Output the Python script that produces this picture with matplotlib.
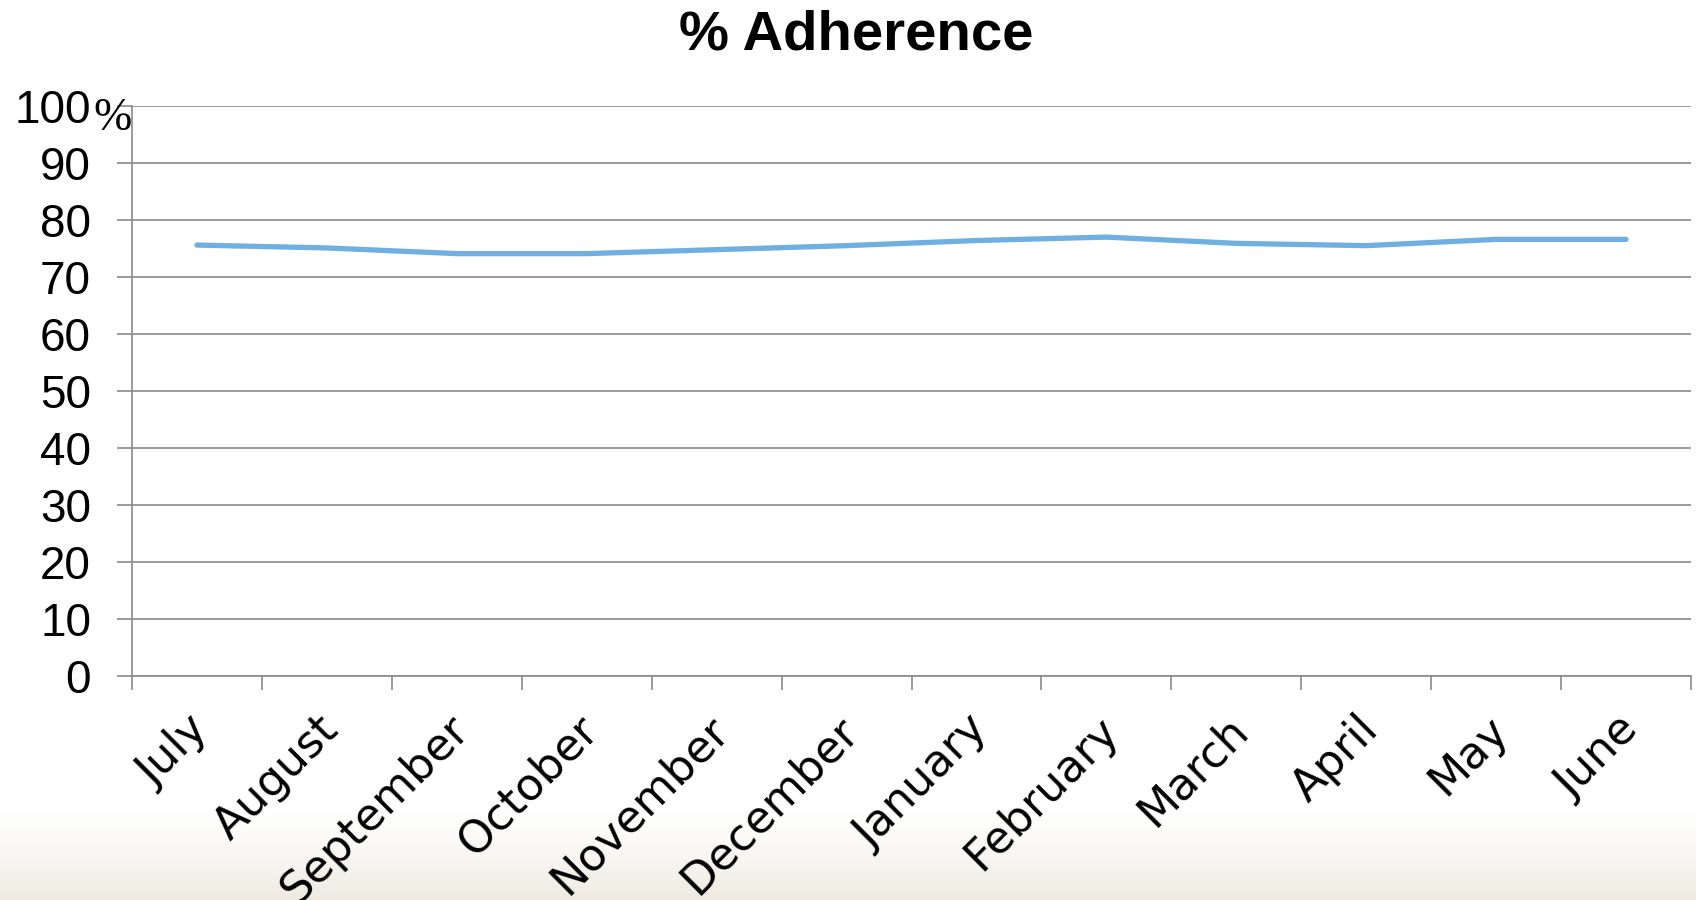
import numpy as np
import matplotlib
matplotlib.use("Agg")
import matplotlib.pyplot as plt
from matplotlib.transforms import ScaledTranslation

months = ["July", "August", "September", "October", "November", "December",
          "January", "February", "March", "April", "May", "June"]
adherence = [75.6, 75.1, 74.1, 74.1, 74.8, 75.5,
             76.4, 77.0, 75.9, 75.5, 76.6, 76.6]
y_ticks = [0, 10, 20, 30, 40, 50, 60, 70, 80, 90, 100]
y_labels = ["0", "10", "20", "30", "40", "50", "60", "70", "80", "90", "100"]

GRID = "#8a8a8a"
LINE = "#6fafe1"
W, H = 1696, 900

fig = plt.figure(figsize=(W / 100, H / 100), dpi=100)

# soft beige band along the bottom edge
bg = fig.add_axes([0, 0, 1, 90 / H], zorder=-5)
grad = np.linspace(0, 1, 256)[:, None] ** 1.3
top = np.array([1.0, 1.0, 1.0])
bot = np.array([0xee, 0xea, 0xe0]) / 255
img = top + (bot - top) * grad[..., None]
bg.imshow(img[:, None, 0, :].repeat(2, axis=1), aspect="auto",
          extent=(0, 1, 0, 1), origin="upper")
bg.set_axis_off()

ax = fig.add_axes([132 / W, 1 - 676 / H, (1691 - 132) / W, (676 - 106) / H])
x = np.arange(len(months)) + 0.5
ax.plot(x, adherence, color=LINE, lw=3.8, solid_capstyle="round",
        solid_joinstyle="round", zorder=3)

ax.set_xlim(0, len(months))
ax.set_ylim(0, 100)
ax.set_yticks(y_ticks)
ax.set_yticklabels(y_labels, fontsize=33, family="Liberation Sans")
ax.yaxis.grid(True, color=GRID, lw=1.2)
ax.set_axisbelow(True)

# category boundaries get the tick marks, centres get the names
ax.set_xticks(np.arange(len(months) + 1))
ax.set_xticklabels([])
ax.set_xticks(x, minor=True)
ax.set_xticklabels(months, minor=True, fontsize=32, family="DejaVu Sans")
ax.tick_params(axis="x", which="minor", length=0, pad=23)
ax.tick_params(axis="x", which="major", length=10, width=1.2, color=GRID)
ax.tick_params(axis="y", length=10.5, width=1.2, color=GRID, pad=19)
shift = ScaledTranslation(-10 / 100, 0, fig.dpi_scale_trans)
for lab in ax.get_xticklabels(minor=True):
    lab.set_rotation(45)
    lab.set_ha("right")
    lab.set_rotation_mode("anchor")
    lab.set_transform(lab.get_transform() + shift)

for s in ("top", "right"):
    ax.spines[s].set_visible(False)
for s in ("left", "bottom"):
    ax.spines[s].set_color(GRID)
    ax.spines[s].set_linewidth(1.2)

# the percent sign on the top label is set in a serif face
fig.text(93 / W, 1 - 130 / H, "%", fontsize=33, family="Liberation Serif",
         ha="left", va="baseline")

fig.text(0.505, 1 - 50 / H, "% Adherence", fontsize=40.5, fontweight="bold",
         family="Liberation Sans", ha="center", va="baseline")

fig.savefig("out.png", dpi=100)
